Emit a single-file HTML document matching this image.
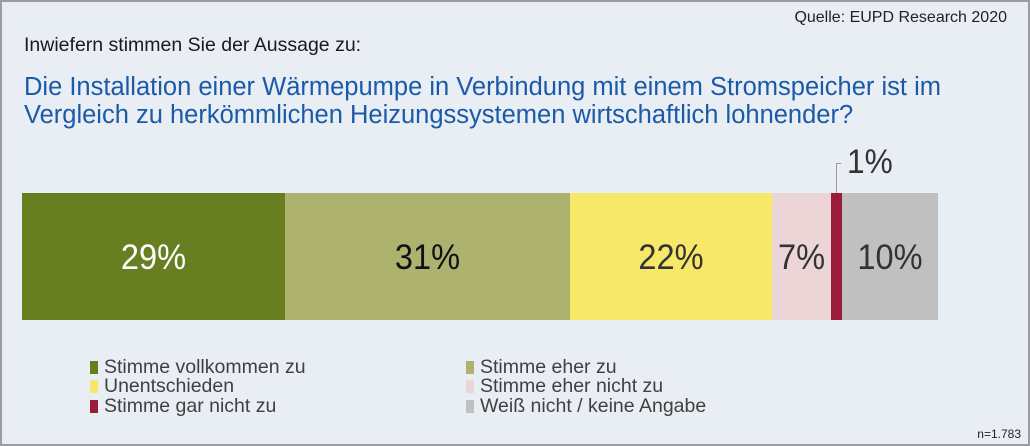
<!DOCTYPE html>
<html><head><meta charset="utf-8"><style>
body{margin:0;width:1030px;height:446px;overflow:hidden;font-family:"Liberation Sans",sans-serif}
#f{position:absolute;left:0;top:0;width:1026px;height:442px;border:2px solid #9a9ea4;background:#e9eef5}
.a{position:absolute;white-space:nowrap}
.seg{position:absolute;top:193px;height:127px}
.lb{position:absolute;top:239px;font-size:35px;line-height:38px;transform:scaleX(.93);text-align:center}
.lg{position:absolute;font-size:19.5px;color:#404040;line-height:20px}
.sq{position:absolute;width:8px;height:13px}
</style></head><body><div id="f"></div>
<div class="a" style="right:23px;top:9px;font-size:16px;color:#222">Quelle: EUPD Research 2020</div>
<div class="a" style="left:24px;top:34px;font-size:19.5px;color:#1a1a1a">Inwiefern stimmen Sie der Aussage zu:</div>
<div class="a" style="left:24px;top:73px;font-size:25.5px;line-height:28px;color:#1a5aa6">Die Installation einer Wärmepumpe in Verbindung mit einem Stromspeicher ist im<br>Vergleich zu herkömmlichen Heizungssystemen wirtschaftlich lohnender?</div>
<div class="seg" style="left:22px;width:263px;background:#687f21"></div>
<div class="seg" style="left:285px;width:285px;background:#aeb26f"></div>
<div class="seg" style="left:570px;width:202px;background:#f8e86a"></div>
<div class="seg" style="left:772px;width:59px;background:#ecd5d6"></div>
<div class="seg" style="left:831px;width:11px;background:#9b1b3a"></div>
<div class="seg" style="left:842px;width:96px;background:#c0c0c0"></div>
<div class="lb" style="left:22px;width:263px;color:#fff">29%</div>
<div class="lb" style="left:285px;width:285px;color:#111">31%</div>
<div class="lb" style="left:570px;width:202px;color:#333">22%</div>
<div class="lb" style="left:772px;width:59px;color:#333">7%</div>
<div class="lb" style="left:842px;width:96px;color:#333">10%</div>
<div class="a" style="left:836px;top:163px;width:1px;height:30px;background:#999"></div>
<div class="a" style="left:836px;top:163px;width:5px;height:1px;background:#999"></div>
<div class="a" style="left:847px;top:143px;font-size:34px;color:#333;transform:scaleX(.93);transform-origin:left">1%</div>
<div class="sq" style="left:90px;top:361px;background:#687f21"></div>
<div class="sq" style="left:90px;top:380px;background:#f8e86a"></div>
<div class="sq" style="left:90px;top:400px;background:#9b1b3a"></div>
<div class="sq" style="left:466px;top:361px;background:#aeb26f"></div>
<div class="sq" style="left:466px;top:380px;background:#ecd5d6"></div>
<div class="sq" style="left:466px;top:400px;background:#c0c0c0"></div>
<div class="lg" style="left:104px;top:357px">Stimme vollkommen zu</div>
<div class="lg" style="left:104px;top:376px">Unentschieden</div>
<div class="lg" style="left:104px;top:396px">Stimme gar nicht zu</div>
<div class="lg" style="left:480px;top:357px">Stimme eher zu</div>
<div class="lg" style="left:480px;top:376px">Stimme eher nicht zu</div>
<div class="lg" style="left:480px;top:396px">Weiß nicht / keine Angabe</div>
<div class="a" style="right:9px;top:427px;font-size:12px;color:#222">n=1.783</div>
</body></html>
